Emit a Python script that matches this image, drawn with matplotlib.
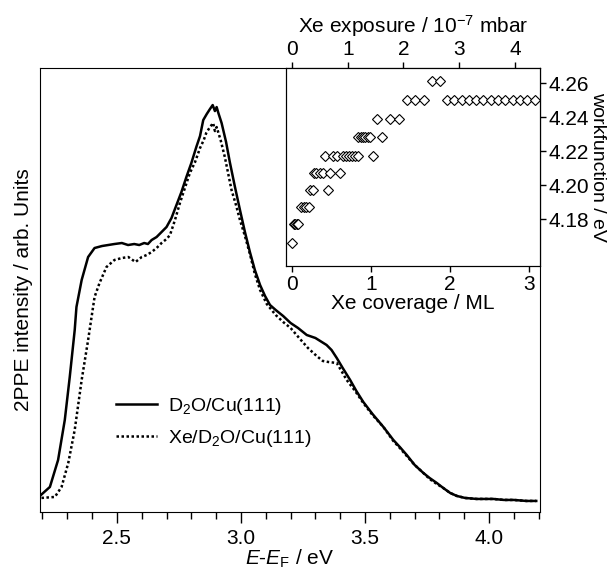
import matplotlib
matplotlib.use("Agg")
import matplotlib.pyplot as plt
from matplotlib.ticker import MultipleLocator, FormatStrFormatter

plt.rcParams['font.family'] = ['Liberation Sans', 'DejaVu Sans']
plt.rcParams['mathtext.fontset'] = 'custom'
plt.rcParams['mathtext.rm'] = 'Liberation Sans'
plt.rcParams['mathtext.it'] = 'Liberation Sans:italic'
plt.rcParams['font.size'] = 15

# 2PPE spectra (energy in eV, intensity in arb. units)
e_d2o = [2.194, 2.23, 2.263, 2.29, 2.31, 2.33, 2.337, 2.358, 2.384, 2.41, 2.44,
         2.465, 2.49, 2.52, 2.545, 2.57, 2.59, 2.61, 2.625, 2.64, 2.66, 2.68, 2.70,
         2.72, 2.74, 2.76, 2.78, 2.80, 2.82, 2.835, 2.848, 2.862, 2.875, 2.886,
         2.895, 2.902, 2.909, 2.922, 2.94, 2.955, 2.975, 2.996, 3.016, 3.036,
         3.056, 3.077, 3.097, 3.117, 3.14, 3.17, 3.2, 3.23, 3.265, 3.3, 3.345,
         3.365, 3.386, 3.41, 3.44, 3.465, 3.493, 3.53, 3.574, 3.614, 3.64, 3.668,
         3.70, 3.735, 3.76, 3.789, 3.815, 3.843, 3.87, 3.903, 3.95, 4.017, 4.06,
         4.1, 4.15, 4.19]
i_d2o = [17, 25, 52, 92, 135, 182, 205, 232, 255, 264, 266,
         267, 268, 269, 267, 268, 267, 269, 268, 272, 275, 280, 285,
         294, 307, 320, 335, 349, 365, 376, 392, 398, 403, 407,
         401, 405, 399, 389, 370, 350, 326, 302, 280, 260,
         242, 227, 216, 207, 202, 196, 189, 184, 177, 174, 167,
         162, 154, 144, 132, 121, 110, 98, 85, 72, 65, 57,
         47, 39, 34, 29, 24, 19, 16, 14, 13, 13, 12,
         12, 11, 11]

e_xe = [2.196, 2.25, 2.277, 2.304, 2.33, 2.358, 2.384, 2.41, 2.43, 2.458, 2.49,
        2.52, 2.546, 2.575, 2.6, 2.62, 2.64, 2.66, 2.68, 2.70, 2.714, 2.734,
        2.754, 2.774, 2.794, 2.815, 2.835, 2.85, 2.86, 2.875, 2.888, 2.895,
        2.902, 2.918, 2.935, 2.962, 2.98, 2.996, 3.016, 3.036, 3.056, 3.077,
        3.104, 3.14, 3.17, 3.2, 3.238, 3.27, 3.305, 3.33, 3.352, 3.386, 3.405,
        3.426, 3.46, 3.493, 3.53, 3.574, 3.614, 3.64, 3.668, 3.70, 3.735, 3.76,
        3.789, 3.815, 3.843, 3.87, 3.903, 3.95, 4.017, 4.06, 4.1, 4.15, 4.19]
i_xe = [14, 15, 25, 49, 82, 132, 172, 215, 229, 245, 252,
        254, 255, 250, 255, 257, 260, 264, 269, 273, 277, 292,
        309, 324, 339, 350, 364, 372, 379, 385, 389, 381,
        385, 372, 355, 322, 307, 292, 276, 258, 238, 222,
        208, 197, 190, 184, 173, 164, 156, 151, 150, 149, 141,
        132, 121, 109, 97, 85, 71, 64, 56, 47, 39, 33,
        28, 24, 19, 16, 14, 13, 13, 12, 12, 11, 11]

# inset: workfunction vs Xe coverage
coverage = [0.0, 0.02, 0.04, 0.06, 0.08, 0.12, 0.15, 0.18, 0.21, 0.23, 0.27,
            0.46, 0.28, 0.31, 0.35, 0.39, 0.48, 0.61, 0.42, 0.52, 0.57, 0.64,
            0.68, 0.72, 0.76, 0.80, 0.83, 1.03, 0.84, 0.87, 0.90, 0.93, 0.96,
            0.99, 1.14, 1.08, 1.24, 1.35, 1.45, 1.56, 1.67, 1.96, 2.05, 2.15,
            2.24, 2.33, 2.42, 2.52, 2.61, 2.70, 2.80, 2.89, 2.98, 3.07, 1.77,
            1.87]
workfunction = [4.166, 4.177, 4.177, 4.177, 4.177, 4.187, 4.187, 4.187, 4.187,
                4.197, 4.197, 4.197, 4.207, 4.207, 4.207, 4.207, 4.207, 4.207,
                4.217, 4.217, 4.217, 4.217, 4.217, 4.217, 4.217, 4.217, 4.217,
                4.217, 4.228, 4.228, 4.228, 4.228, 4.228, 4.228, 4.228, 4.239,
                4.239, 4.239, 4.25, 4.25, 4.25, 4.25, 4.25, 4.25, 4.25, 4.25,
                4.25, 4.25, 4.25, 4.25, 4.25, 4.25, 4.25, 4.25, 4.261, 4.261]
exposure_per_ml = 1.418

fig = plt.figure(figsize=(6.15, 5.72), dpi=100)
ax = fig.add_axes([0.065, 0.105, 0.813, 0.776])
ax.plot(e_d2o, i_d2o, color='black', lw=1.8, label='D$_2$O/Cu(111)')
ax.plot(e_xe, i_xe, color='black', lw=1.8, ls=(0, (1, 1)), label='Xe/D$_2$O/Cu(111)')
ax.set_xlim(2.19, 4.205)
ax.set_ylim(0, 444)
ax.set_yticks([])
ax.xaxis.set_major_locator(MultipleLocator(0.5))
ax.xaxis.set_minor_locator(MultipleLocator(0.1))
ax.xaxis.set_major_formatter(FormatStrFormatter('%.1f'))
ax.tick_params(axis='x', which='major', direction='out', length=8, width=1, labelsize=15, pad=4)
ax.tick_params(axis='x', which='minor', direction='out', length=5, width=1)
ax.set_xlabel('$E$-$E_\\mathrm{F}$ / eV', fontsize=15, labelpad=0)
ax.set_ylabel('2PPE intensity / arb. Units', fontsize=15, labelpad=5)
ax.legend(loc='upper left', bbox_to_anchor=(0.117, 0.30), frameon=False,
          handlelength=2.1, handletextpad=0.55, labelspacing=0.55, fontsize=14)

ins = fig.add_axes([0.465, 0.535, 0.413, 0.346])
ins.plot(coverage, workfunction, ls='none', marker='D', ms=4.8, mfc='white',
         mec='black', mew=0.8)
ins.set_xlim(-0.076, 3.138)
ins.set_ylim(4.1524, 4.2688)
ins.set_xticks([0, 1, 2, 3])
ins.set_yticks([4.18, 4.20, 4.22, 4.24, 4.26])
ins.yaxis.set_major_formatter(FormatStrFormatter('%.2f'))
ins.yaxis.tick_right()
ins.yaxis.set_label_position('right')
ins.tick_params(direction='out', length=4.5, width=1, labelsize=15, pad=2)
ins.set_xlabel('Xe coverage / ML', fontsize=15, labelpad=0)
ins.set_ylabel('workfunction / eV', fontsize=14, rotation=-90, labelpad=12)

top = ins.twiny()
lo, hi = ins.get_xlim()
top.set_xlim(lo * exposure_per_ml, hi * exposure_per_ml)
top.set_xticks([0, 1, 2, 3, 4])
top.tick_params(direction='out', length=4.5, width=1, labelsize=15, pad=2)
top.set_xlabel('Xe exposure / 10$^{-7}$ mbar', fontsize=15, labelpad=5)

fig.savefig('out.png', dpi=100)
